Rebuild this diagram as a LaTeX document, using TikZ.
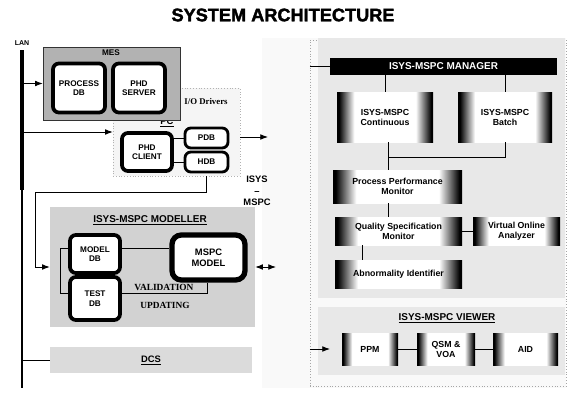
\documentclass[tikz,border=0pt]{standalone}
\usepackage{fontspec}
\setmainfont{Liberation Sans}
\newfontfamily\timesbf{Liberation Serif}
\newfontfamily\heavyfont[FakeBold=2]{Liberation Sans Bold}
\usepackage{tikz}
\usetikzlibrary{positioning,arrows.meta}
\pgfdeclarehorizontalshading{edgeFade}{100bp}{color(0bp)=(black); color(26bp)=(black); color(34bp)=(white); color(66bp)=(white); color(74bp)=(black); color(100bp)=(black)}

\begin{document}
\begin{tikzpicture}[x=0.03cm, y=-0.03cm,
    dbBox/.style={rectangle, rounded corners=5pt, draw=black, line width=3.2pt, fill=white, font=\fontsize{7}{8}\selectfont\bfseries, align=center, inner sep=1pt},
    gradBox/.style={rectangle, shading=edgeFade, font=\fontsize{7.5}{8.5}\selectfont\bfseries, align=center, inner sep=1pt},
    groupBox/.style={rectangle, inner sep=0pt},
    arrowStyle/.style={-Latex, line width=0.8pt},
    wire/.style={line width=0.8pt}
]
    \useasboundingbox (0,0) rectangle (567,392);

    \node[font=\heavyfont\fontsize{15.5}{18}\selectfont] (title) at (283,15) {SYSTEM ARCHITECTURE};

    % LAN backbone
    \node[font=\fontsize{6}{7}\selectfont\bfseries] (lan) at (22,43) {LAN};
    \coordinate (lanTop) at (22,50);
    \coordinate (lanMid) at (22,190);
    \coordinate (lanBot) at (22,388);
    \draw[line width=3pt] (lanTop) -- (lanMid);
    \draw[line width=1pt] (lanMid) -- (lanBot);

    % ISYS-MSPC area
    \node[groupBox, fill=gray!5, minimum width=9.12cm, minimum height=10.5cm] (isys) at (414,213) {};
    \node[groupBox, draw=gray!70, dotted, minimum width=7.68cm, minimum height=10.38cm] (isysCol) at (438,213) {};
    \node[groupBox, fill=gray!18, minimum width=7.41cm, minimum height=7.8cm] (mgrArea) at (441.5,168) {};
    \node[groupBox, fill=gray!18, minimum width=7.41cm, minimum height=2.04cm] (viewArea) at (441.5,341) {};
    \node[font=\fontsize{8}{10}\selectfont\bfseries, align=center] (isysLabel) at (257,191) {ISYS\\--\\MSPC};

    % PC and plant side
    \node[groupBox, fill=gray!8, draw=gray!60, dotted, minimum width=3.81cm, minimum height=2.64cm] (pc) at (176.5,132) {};
    \node[font=\timesbf\fontsize{7.5}{9}\selectfont\bfseries] (ioDrivers) at (206,101) {I/O Drivers};
    \node[font=\fontsize{8}{9}\selectfont\bfseries] (pcLabel) at (167,122) {\underline{PC}};
    \node[dbBox, minimum width=1.5cm, minimum height=1.14cm] (phdClient) at (147,152) {PHD\\CLIENT};
    \node[dbBox, line width=2.4pt, minimum width=1.29cm, minimum height=0.6cm] (pdb) at (206.5,138) {PDB};
    \node[dbBox, line width=2.4pt, minimum width=1.29cm, minimum height=0.6cm] (hdb) at (206.5,162) {HDB};

    \node[groupBox, fill=gray!60, draw=gray!40!black, minimum width=4.11cm, minimum height=2.19cm] (mes) at (111.5,83.5) {};
    \node[font=\fontsize{7}{8}\selectfont\bfseries] (mesLabel) at (111,53) {MES};
    \node[dbBox, minimum width=1.56cm, minimum height=1.47cm] (procDb) at (79,88) {PROCESS\\DB};
    \node[dbBox, minimum width=1.56cm, minimum height=1.47cm] (phdServer) at (139,88) {PHD\\SERVER};

    % modeller
    \node[groupBox, fill=gray!35, minimum width=6.15cm, minimum height=3.6cm] (modeller) at (152.5,267) {};
    \node[font=\fontsize{8.5}{10}\selectfont\bfseries] (modTitle) at (150,220) {\underline{ISYS-MSPC MODELLER}};
    \node[dbBox, minimum width=1.5cm, minimum height=1.14cm] (modelDb) at (95,254) {MODEL\\DB};
    \node[dbBox, minimum width=1.5cm, minimum height=1.29cm] (testDb) at (95,298.5) {TEST\\DB};
    \node[dbBox, rounded corners=8pt, line width=4.5pt, minimum width=2.19cm, minimum height=1.35cm, font=\fontsize{8}{9}\selectfont\bfseries] (mspcModel) at (208.5,257.5) {MSPC\\MODEL};
    \node[font=\timesbf\fontsize{8}{9}\selectfont\bfseries] (valid) at (164,287) {VALIDATION};
    \node[font=\timesbf\fontsize{8}{9}\selectfont\bfseries] (updating) at (165,305) {UPDATING};

    \node[groupBox, fill=gray!28, minimum width=6.06cm, minimum height=0.78cm, font=\fontsize{8}{9}\selectfont\bfseries] (dcs) at (151,360) {\underline{DCS}};

    % manager
    \node[groupBox, fill=black, text=white, minimum width=6.81cm, minimum height=0.51cm, font=\fontsize{8.5}{10}\selectfont\bfseries] (manager) at (443.5,66.5) {ISYS-MSPC MANAGER};
    \node[gradBox, minimum width=2.88cm, minimum height=1.5cm] (continuous) at (385,117) {ISYS-MSPC\\Continuous};
    \node[gradBox, minimum width=2.82cm, minimum height=1.5cm] (batch) at (505,117) {ISYS-MSPC\\Batch};
    \node[gradBox, minimum width=3.87cm, minimum height=0.99cm] (ppmBox) at (397.5,186.5) {Process Performance\\Monitor};
    \node[gradBox, minimum width=3.81cm, minimum height=0.84cm] (qsmBox) at (398.5,231) {Quality Specification\\Monitor};
    \node[gradBox, minimum width=2.61cm, minimum height=0.84cm] (voaBox) at (516.5,231) {Virtual Online\\Analyzer};
    \node[gradBox, minimum width=3.81cm, minimum height=0.84cm] (aiBox) at (398.5,274) {Abnormality Identifier};

    % viewer
    \node[font=\fontsize{8.5}{10}\selectfont\bfseries] (viewTitle) at (447,318) {\underline{ISYS-MSPC VIEWER}};
    \node[gradBox, minimum width=1.68cm, minimum height=0.96cm] (vPpm) at (370,349) {PPM};
    \node[gradBox, minimum width=1.74cm, minimum height=0.96cm] (vQsm) at (446,349) {QSM \&\\VOA};
    \node[gradBox, minimum width=1.95cm, minimum height=0.96cm] (vAid) at (525.5,349) {AID};

    % connectors, plant side
    \draw[arrowStyle] (mes.west -| lanTop) -- (mes.west);
    \draw[arrowStyle] (pc.west -| lanTop) -- (pc.west);
    \draw[wire] (pdb.west -| phdClient.east) -- (pdb.west);
    \draw[wire] (hdb.west -| phdClient.east) -- (hdb.west);
    \coordinate (pcOut) at (268,137);
    \draw[arrowStyle] (pc.east |- pcOut) -- (pcOut);
    \coordinate (loopA) at (35,192);
    \draw[arrowStyle] (pdb.south |- pc.south) -- (pdb.south |- loopA) -- (loopA) |- (modeller.west);
    \draw[wire] (dcs.west -| lanTop) -- (dcs.west);

    % connectors, modeller
    \coordinate (modLink) at (60,248);
    \draw[wire] (modelDb.west |- modLink) -- (modLink) |- (testDb.west |- 0,293);
    \draw[wire] (modelDb.east |- modLink) -- (mspcModel.west |- modLink);
    \draw[wire] (testDb.east |- 0,293) -| (mspcModel.south -| 207,0);
    \coordinate (modOut) at (276,267);
    \draw[{Latex}-{Latex}, line width=0.8pt] (modeller.east) -- (modOut);

    % connectors, manager
    \draw[wire] (manager.west -| isysCol.west) -- (manager.west);
    \draw[wire] (continuous.north) -- (continuous.north |- manager.south);
    \draw[wire] (batch.north) -- (batch.north |- manager.south);
    \coordinate (busL) at (388,157);
    \draw[wire] (continuous.south -| busL) -- (busL) -| (batch.south);
    \draw[wire] (busL) -- (busL |- ppmBox.north);
    \draw[wire] (ppmBox.south -| busL) -- (qsmBox.north -| busL);
    \draw[wire] (qsmBox.east) -- (voaBox.west);
    \draw[wire] ([xshift=-1.08cm]qsmBox.south) -- ([xshift=-1.08cm]aiBox.north);

    % connectors, viewer
    \coordinate (viewIn) at (330,349);
    \draw[arrowStyle] (viewIn -| isysCol.west) -- (viewIn);
    \draw[wire] (vPpm.east) -- (vQsm.west);
    \draw[wire] (vQsm.east) -- (vAid.west);
\end{tikzpicture}
\end{document}
